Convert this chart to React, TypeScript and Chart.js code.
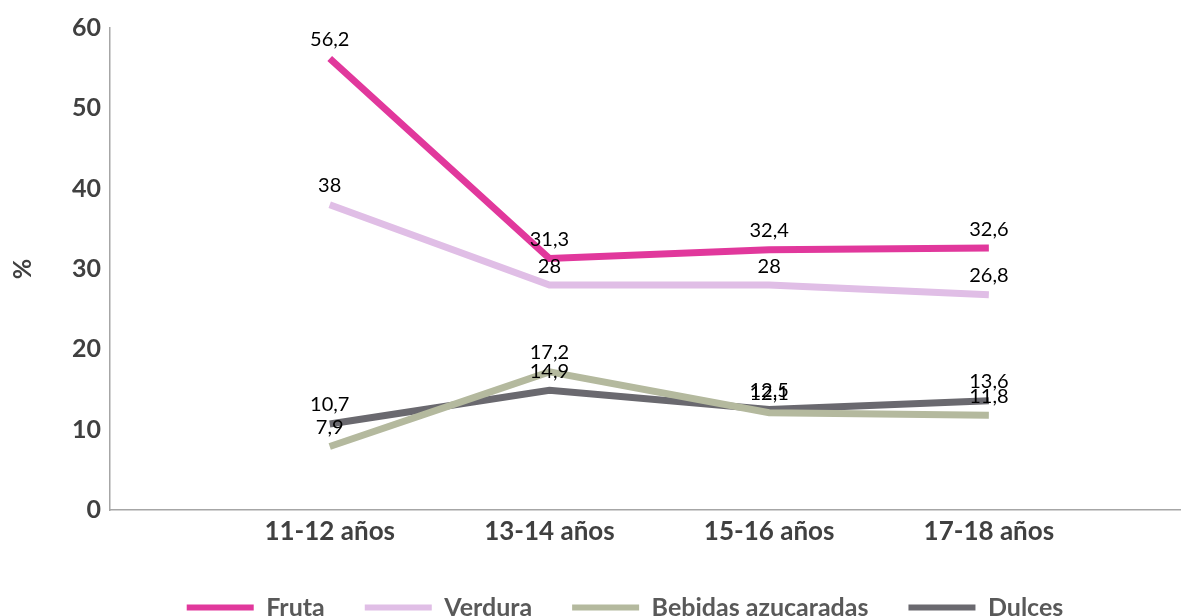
import React, { useEffect, useRef } from "react";
import { Chart, registerables } from "chart.js";

Chart.register(...registerables);

const categories = ["11-12 años", "13-14 años", "15-16 años", "17-18 años"];
const fruta = [56.2, 31.3, 32.4, 32.6];
const verdura = [38, 28, 28, 26.8];
const bebidas = [7.9, 17.2, 12.1, 11.8];
const dulces = [10.7, 14.9, 12.5, 13.6];
const yTicks = [0, 10, 20, 30, 40, 50, 60];

const toPoints = (vals: number[]) => vals.map((v, i) => ({ x: i, y: v }));
const fmt = (v: number) => String(v).replace(".", ",");

const dataLabelPlugin = {
  id: "dataLabels",
  afterDatasetsDraw(chart: any) {
    const ctx = chart.ctx;
    ctx.save();
    ctx.font = "20px Lato";
    ctx.fillStyle = "#000000";
    ctx.textAlign = "center";
    ctx.textBaseline = "middle";
    chart.data.datasets.forEach((ds: any, di: number) => {
      const meta = chart.getDatasetMeta(di);
      meta.data.forEach((pt: any, i: number) => {
        ctx.fillText(fmt(ds.data[i].y), pt.x, pt.y - 19);
      });
    });
    ctx.restore();
  },
};

export default function App() {
  const ref = useRef<HTMLCanvasElement | null>(null);
  useEffect(() => {
    if (!ref.current) return;
    const mk = (label: string, vals: number[], color: string) => ({
      label,
      data: toPoints(vals),
      borderColor: color,
      backgroundColor: color,
      borderWidth: 7,
      pointRadius: 0,
      pointHoverRadius: 0,
      tension: 0,
      borderCapStyle: "butt" as const,
      borderJoinStyle: "miter" as const,
    });
    const chart = new Chart(ref.current, {
      type: "line",
      data: {
        datasets: [
          mk("Fruta", fruta, "#e1389c"),
          mk("Verdura", verdura, "#e0bee6"),
          mk("Bebidas azucaradas", bebidas, "#b4b99e"),
          mk("Dulces", dulces, "#6a696f"),
        ],
      },
      plugins: [dataLabelPlugin],
      options: {
        animation: false,
        responsive: false,
        maintainAspectRatio: false,
        layout: { padding: { top: 28, right: 14, left: 70, bottom: 0 } },
        plugins: {
          tooltip: { enabled: false },
          legend: {
            position: "bottom",
            fullSize: true,
            labels: {
              boxWidth: 67,
              boxHeight: 6,
              padding: 40,
              color: "#595959",
              font: { family: "Lato", size: 25, weight: "bold" },
              generateLabels: (c: any) =>
                c.data.datasets.map((ds: any, i: number) => ({
                  text: ds.label,
                  fillStyle: ds.borderColor,
                  strokeStyle: ds.borderColor,
                  lineWidth: 0,
                  fontColor: "#595959",
                  hidden: false,
                  datasetIndex: i,
                })),
            },
          },
        },
        scales: {
          x: {
            type: "linear",
            min: -1,
            max: 3.87,
            afterBuildTicks: (s: any) => {
              s.ticks = categories.map((_, i) => ({ value: i }));
            },
            afterFit: (s: any) => {
              s.height = 45;
            },
            grid: { display: false, drawTicks: false },
            border: { display: true, color: "#a6a6a6", width: 1.5 },
            ticks: {
              autoSkip: false,
              maxRotation: 0,
              padding: 6,
              color: "#404040",
              font: { family: "Lato", size: 26, weight: "bold" },
              callback: (v: any) => categories[v] ?? "",
            },
          },
          y: {
            min: 0,
            max: 60,
            afterBuildTicks: (s: any) => {
              s.ticks = yTicks.map((v) => ({ value: v }));
            },
            afterFit: (s: any) => {
              s.width = 40;
            },
            grid: { display: false, drawTicks: false },
            border: { display: true, color: "#a6a6a6", width: 1.5 },
            ticks: {
              padding: 9,
              color: "#404040",
              font: { family: "Lato", size: 25, weight: "bold" },
            },
            title: {
              display: true,
              text: "%",
              color: "#404040",
              padding: { top: -62, bottom: 0 },
              font: { family: "Lato", size: 25, weight: "bold" },
            },
          },
        },
      },
    });
    return () => chart.destroy();
  }, []);
  return (
    <div style={{ position: "fixed", left: 0, top: 0, width: 1194, height: 616, overflow: "hidden", background: "#fff" }}>
      <canvas ref={ref} width={1194} height={630} style={{ display: "block" }} />
    </div>
  );
}
